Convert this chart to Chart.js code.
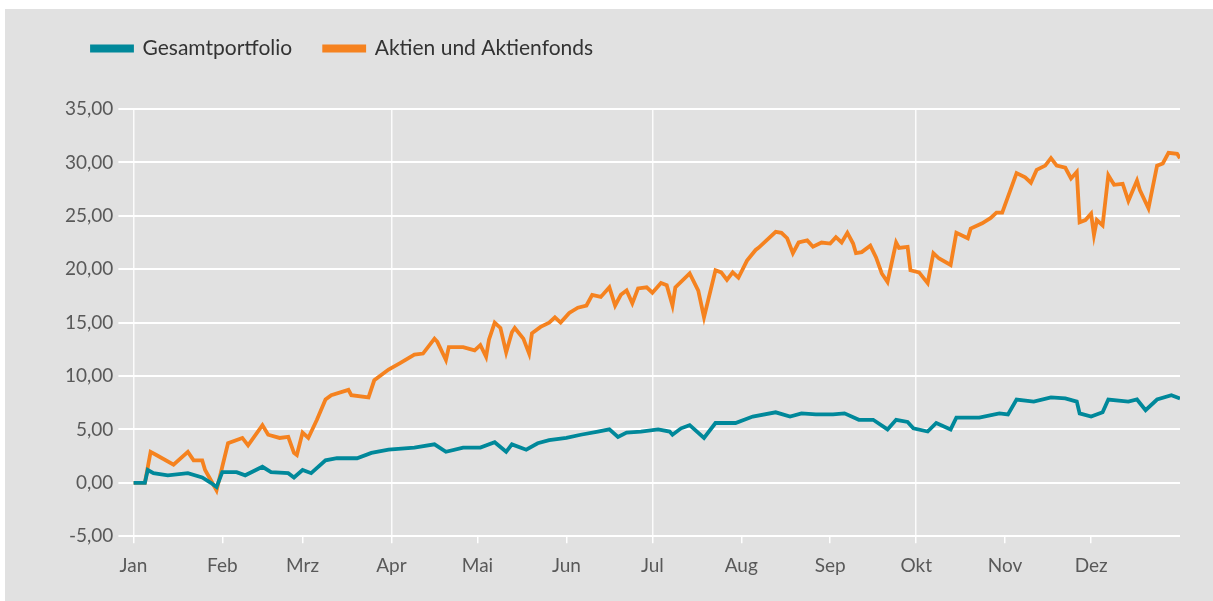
<!DOCTYPE html>
<html>
<head>
<meta charset="utf-8">
<script src="https://cdn.jsdelivr.net/npm/chart.js@4"></script>
<style>
  html, body { margin: 0; padding: 0; background: #fff; }
  #wrap { position: absolute; left: 5px; top: 9px; width: 1208px; height: 592px; background: #e1e1e1; }
</style>
</head>
<body>
<div id="wrap"><canvas id="perfChart" width="1208" height="592"></canvas></div>
<script>
// month start (day of year) and labels
const monthDays = [0, 31, 59, 90, 120, 151, 181, 212, 243, 273, 304, 334];
const monthLabels = ['Jan', 'Feb', 'Mrz', 'Apr', 'Mai', 'Jun', 'Jul', 'Aug', 'Sep', 'Okt', 'Nov', 'Dez'];
const quarterDays = [0, 90, 181, 273];

// Gesamtportfolio (day of year, performance in %)
const totalDays = [0, 4, 5, 7, 12, 19, 24, 27, 29, 31, 36, 39, 45, 48, 54, 56, 59, 62, 67, 71, 78, 83, 89,
  98, 105, 109, 115, 121, 126, 130, 132, 137, 141, 145, 151, 156, 162, 166, 169, 172, 177, 183, 187, 188,
  191, 194, 199, 203, 210, 216, 224, 229, 233, 238, 244, 248, 253, 258, 263, 266, 270, 272, 277, 280, 285,
  287, 295, 302, 305, 308, 314, 320, 325, 329, 330, 334, 338, 340, 347, 350, 353, 357, 362, 365];
const totalValues = [0, 0, 1.2, 0.9, 0.7, 0.9, 0.5, 0, -0.4, 1.0, 1.0, 0.7, 1.5, 1.0, 0.9, 0.5, 1.2, 0.9, 2.1, 2.3, 2.3, 2.8, 3.1,
  3.3, 3.6, 2.9, 3.3, 3.3, 3.8, 2.9, 3.6, 3.1, 3.7, 4.0, 4.2, 4.5, 4.8, 5.0, 4.3, 4.7, 4.8, 5.0, 4.8, 4.5,
  5.1, 5.4, 4.2, 5.6, 5.6, 6.2, 6.6, 6.2, 6.5, 6.4, 6.4, 6.5, 5.9, 5.9, 5.0, 5.9, 5.7, 5.1, 4.8, 5.6, 5.0,
  6.1, 6.1, 6.5, 6.4, 7.8, 7.6, 8.0, 7.9, 7.6, 6.5, 6.2, 6.6, 7.8, 7.6, 7.8, 6.8, 7.8, 8.2, 7.9];

// Aktien und Aktienfonds
const equityDays = [0, 4, 6, 8, 14, 19, 21, 24, 25, 29, 31, 33, 38, 40, 45, 47, 51, 54, 56, 57, 59, 61, 64, 67,
  69, 75, 76, 82, 84, 89, 93, 98, 101, 105, 106, 109, 110, 115, 119, 121, 123, 124, 126, 128, 130, 132, 133,
  136, 138, 139, 142, 145, 147, 149, 152, 155, 158, 160, 163, 166, 168, 170, 172, 174, 176, 179, 181, 184,
  186, 188, 189, 194, 197, 199, 203, 205, 207, 209, 211, 214, 217, 218, 224, 226, 228, 230, 232, 235, 237,
  240, 243, 245, 247, 249, 251, 252, 254, 257, 259, 261, 263, 266, 267, 270, 271, 274, 277, 279, 281, 285,
  287, 291, 292, 296, 299, 301, 303, 308, 311, 313, 315, 318, 320, 322, 325, 327, 329, 330, 332, 334, 335,
  336, 338, 340, 342, 345, 347, 350, 351, 354, 357, 359, 361, 364, 365];
const equityValues = [0, 0, 2.9, 2.6, 1.7, 2.9, 2.1, 2.1, 1.2, -0.7, 1.5, 3.7, 4.2, 3.5, 5.4, 4.5, 4.2, 4.3, 2.8, 2.6, 4.7, 4.2, 5.9, 7.8,
  8.2, 8.7, 8.2, 8.0, 9.6, 10.6, 11.2, 12.0, 12.1, 13.5, 13.2, 11.5, 12.7, 12.7, 12.4, 12.9, 11.8, 13.4, 15.0, 14.5, 12.2, 14.1, 14.5,
  13.5, 12.1, 14.0, 14.6, 15.0, 15.5, 15.0, 15.9, 16.4, 16.6, 17.6, 17.4, 18.3, 16.6, 17.6, 18.0, 16.8, 18.2, 18.3, 17.8, 18.7,
  18.5, 16.6, 18.3, 19.6, 18.0, 15.5, 19.9, 19.7, 19.0, 19.7, 19.2, 20.8, 21.8, 22.0, 23.5, 23.4, 22.9, 21.5, 22.5, 22.7, 22.1,
  22.5, 22.4, 23.0, 22.5, 23.4, 22.4, 21.5, 21.6, 22.2, 21.1, 19.6, 18.8, 22.5, 22.0, 22.1, 19.9, 19.7, 18.7, 21.5, 21.0, 20.4,
  23.4, 22.9, 23.8, 24.3, 24.8, 25.3, 25.3, 29.0, 28.6, 28.1, 29.3, 29.7, 30.4, 29.7, 29.5, 28.5, 29.1, 24.4, 24.6, 25.2, 23.2,
  24.6, 24.1, 28.8, 27.9, 28.0, 26.4, 28.3, 27.4, 25.7, 29.7, 29.9, 30.9, 30.8, 30.4];

const fontFamily = 'Lato, "Open Sans", sans-serif';

function toPoints(days, values) {
    return days.map((d, i) => ({ x: d, y: values[i] }));
}

// push plot area down below the legend
const legendSpace = {
    id: 'legendSpace',
    beforeInit(chart) {
        const fit = chart.legend.fit;
        chart.legend.fit = function() {
            fit.bind(chart.legend)();
            this.height += 40;
        };
    }
};

const ctx = document.getElementById('perfChart').getContext('2d');
const perfChart = new Chart(ctx, {
    type: 'line',
    data: {
        datasets: [{
            label: 'Gesamtportfolio',
            data: toPoints(totalDays, totalValues),
            borderColor: '#00889a',
            backgroundColor: '#00889a',
            borderWidth: 3.8,
            pointRadius: 0,
            tension: 0
        }, {
            label: 'Aktien und Aktienfonds',
            data: toPoints(equityDays, equityValues),
            borderColor: '#f5821f',
            backgroundColor: '#f5821f',
            borderWidth: 3.8,
            pointRadius: 0,
            tension: 0
        }]
    },
    plugins: [legendSpace],
    options: {
        responsive: false,
        animation: false,
        layout: {
            padding: { left: 55, right: 33, top: -3, bottom: 13 }
        },
        plugins: {
            tooltip: { enabled: false },
            legend: {
                position: 'top',
                align: 'start',
                labels: {
                    boxWidth: 40,
                    boxHeight: 4,
                    padding: 32,
                    color: '#333',
                    font: { family: fontFamily, size: 21 }
                }
            }
        },
        scales: {
            x: {
                type: 'linear',
                min: 0,
                max: 365,
                afterBuildTicks: function(axis) {
                    axis.ticks = monthDays.map(d => ({ value: d }));
                },
                ticks: {
                    color: '#595959',
                    padding: 11,
                    maxRotation: 0,
                    autoSkip: false,
                    font: { family: fontFamily, size: 19 },
                    callback: function(value) {
                        return monthLabels[monthDays.indexOf(value)];
                    }
                },
                grid: {
                    color: c => quarterDays.includes(c.tick && c.tick.value) ? 'rgba(255,255,255,0.85)' : 'rgba(0,0,0,0)',
                    tickColor: '#ffffff',
                    lineWidth: 1.5,
                    tickLength: 7
                },
                border: { display: false }
            },
            y: {
                min: -5,
                max: 35,
                ticks: {
                    stepSize: 5,
                    color: '#595959',
                    padding: 5,
                    font: { family: fontFamily, size: 19 },
                    callback: value => value.toFixed(2).replace('.', ',')
                },
                grid: {
                    color: '#ffffff',
                    lineWidth: 2,
                    tickLength: 15
                },
                border: { display: false }
            }
        }
    }
});
</script>
</body>
</html>
